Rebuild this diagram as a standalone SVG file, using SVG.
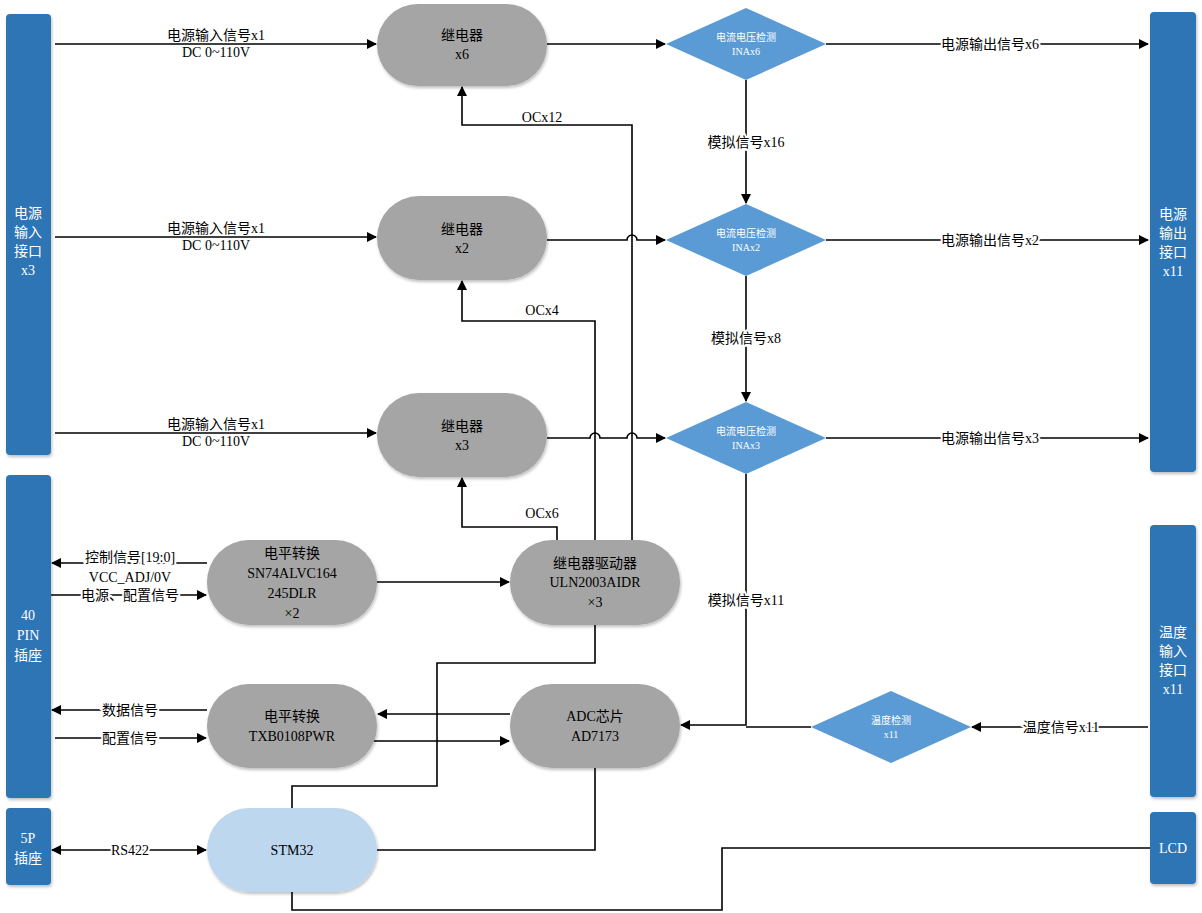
<svg xmlns="http://www.w3.org/2000/svg" width="1202" height="913" viewBox="0 0 1202 913">
<defs>
<marker id="a" markerWidth="10" markerHeight="10" refX="9" refY="5" orient="auto-start-reverse" markerUnits="userSpaceOnUse"><path d="M0,0 L10,5 L0,10 z" fill="#000"/></marker>
<filter id="sh" x="-10%" y="-10%" width="120%" height="130%"><feDropShadow dx="1" dy="2" stdDeviation="1.5" flood-color="#000" flood-opacity="0.25"/></filter>
<style>
text{font-family:"Liberation Serif","Noto Sans CJK SC",serif;font-size:14px;text-anchor:middle;fill:#000}
.bar{fill:#2e75b6;filter:url(#sh)}
.bar+text,.wt{fill:#fff}
.rel{fill:#a5a5a5;filter:url(#sh)}
.stm{fill:#bdd7ee;filter:url(#sh)}
.dia{fill:#5b9bd5}
.dt{fill:#fff;font-size:10px}
.c{fill:none;stroke:#000;stroke-width:1.6}
.ar{marker-end:url(#a)}
.lb{paint-order:stroke;stroke:#fff;stroke-width:4px}
</style>
</defs>
<rect width="1202" height="913" fill="#fff"/>
<g id="in_power"><rect class="bar" x="6" y="14" width="45" height="441" rx="4"/><text class="wt" x="28" y="218">电源</text><text class="wt" x="28" y="237">输入</text><text class="wt" x="28" y="256">接口</text><text class="wt" x="28" y="275">x3</text></g>
<g id="pin40"><rect class="bar" x="6" y="475" width="45" height="323" rx="4"/><text class="wt" x="28" y="620">40</text><text class="wt" x="28" y="640">PIN</text><text class="wt" x="28" y="660">插座</text></g>
<g id="p5"><rect class="bar" x="6" y="808" width="45" height="77" rx="4"/><text class="wt" x="28" y="843">5P</text><text class="wt" x="28" y="863">插座</text></g>
<g id="out_power"><rect class="bar" x="1150" y="12" width="46" height="460" rx="4"/><text class="wt" x="1173" y="219">电源</text><text class="wt" x="1173" y="238">输出</text><text class="wt" x="1173" y="257">接口</text><text class="wt" x="1173" y="276">x11</text></g>
<g id="temp_in"><rect class="bar" x="1150" y="525" width="46" height="272" rx="4"/><text class="wt" x="1173" y="637">温度</text><text class="wt" x="1173" y="656">输入</text><text class="wt" x="1173" y="675">接口</text><text class="wt" x="1173" y="694">x11</text></g>
<g id="lcd"><rect class="bar" x="1150" y="812" width="46" height="72" rx="4"/><text class="wt" x="1173" y="853">LCD</text></g>

<g id="relay6"><rect class="rel" x="377" y="4" width="170" height="82" rx="41"/><text x="462" y="40">继电器</text><text x="462" y="59">x6</text></g>
<g id="relay2"><rect class="rel" x="377" y="196" width="170" height="84" rx="42"/><text x="462" y="234">继电器</text><text x="462" y="253">x2</text></g>
<g id="relay3"><rect class="rel" x="377" y="393" width="170" height="84" rx="42"/><text x="462" y="431">继电器</text><text x="462" y="450">x3</text></g>
<g id="sn74"><rect class="rel" x="207" y="540" width="170" height="85" rx="42"/><text x="292" y="558">电平转换</text><text x="292" y="578">SN74ALVC164</text><text x="292" y="598">245DLR</text><text x="292" y="618">×2</text></g>
<g id="uln"><rect class="rel" x="510" y="540" width="170" height="85" rx="42"/><text x="595" y="568">继电器驱动器</text><text x="595" y="587">ULN2003AIDR</text><text x="595" y="607">×3</text></g>
<g id="txb"><rect class="rel" x="207" y="684" width="170" height="84" rx="42"/><text x="292" y="721">电平转换</text><text x="292" y="741">TXB0108PWR</text></g>
<g id="adc"><rect class="rel" x="510" y="684" width="170" height="84" rx="42"/><text x="595" y="721">ADC芯片</text><text x="595" y="741">AD7173</text></g>
<g id="stm32"><rect class="stm" x="207" y="808" width="170" height="84" rx="42"/><text x="292" y="855">STM32</text></g>

<g id="ina6"><path class="dia" d="M666,44 L746,8 L826,44 L746,80 z"/><text class="dt" x="746" y="41">电流电压检测</text><text class="dt" x="746" y="55">INAx6</text></g>
<g id="ina2"><path class="dia" d="M666,240 L746,204 L826,240 L746,276 z"/><text class="dt" x="746" y="237">电流电压检测</text><text class="dt" x="746" y="251">INAx2</text></g>
<g id="ina3"><path class="dia" d="M666,438 L746,402 L826,438 L746,474 z"/><text class="dt" x="746" y="435">电流电压检测</text><text class="dt" x="746" y="449">INAx3</text></g>
<g id="temp"><path class="dia" d="M811,727 L891,691 L971,727 L891,763 z"/><text class="dt" x="891" y="724">温度检测</text><text class="dt" x="891" y="738">x11</text></g>

<g id="connectors">
<path class="c ar" d="M55,44 H376"/><path class="c ar" d="M55,237 H376"/><path class="c ar" d="M55,433 H376"/>
<path class="c ar" d="M547,44 H665"/>
<path class="c ar" d="M547,240 H627 a5,5 0 0 1 10,0 H665"/>
<path class="c ar" d="M547,438 H590 a5,5 0 0 1 10,0 H627 a5,5 0 0 1 10,0 H665"/>
<path class="c ar" d="M826,44 H1148"/><path class="c ar" d="M826,240 H1148"/><path class="c ar" d="M826,438 H1148"/>
<path class="c ar" d="M746,80 V203"/><path class="c ar" d="M746,276 V401"/>
<path class="c ar" d="M746,474 V725 H681"/>
<path class="c" d="M811,727 H746"/>
<path class="c ar" d="M1148,727 H972"/>
<path class="c ar" d="M632,540 V125 H462 V87"/>
<path class="c ar" d="M595,540 V321 H462 V281"/>
<path class="c ar" d="M557,540 V527 H462 V478"/>
<path class="c ar" d="M377,582 H509"/>
<path class="c ar" d="M207,563 H52"/>
<path class="c ar" d="M51,595 H206"/>
<path class="c ar" d="M207,710 H52"/>
<path class="c ar" d="M55,738 H206"/>
<path class="c ar" d="M510,714 H378"/>
<path class="c ar" d="M374,741 H509"/>
<path class="c" d="M595,625 V663 H437 V786 H292 V808"/>
<path class="c" d="M595,768 V850 H377"/>
<path class="c" d="M292,892 V910 H722 V848 H1150"/>
<path class="c ar" d="M130,850 H52" /><path class="c ar" d="M130,850 H206"/>
</g>
<g id="labels">
<text x="216" y="40">电源输入信号x1</text><text x="216" y="57">DC 0~110V</text>
<text x="216" y="233">电源输入信号x1</text><text x="216" y="250">DC 0~110V</text>
<text x="216" y="429">电源输入信号x1</text><text x="216" y="446">DC 0~110V</text>
<text class="lb" x="990" y="49">电源输出信号x6</text><text class="lb" x="990" y="245">电源输出信号x2</text><text class="lb" x="990" y="443">电源输出信号x3</text>
<text class="lb" x="746" y="147">模拟信号x16</text><text class="lb" x="746" y="343">模拟信号x8</text><text class="lb" x="746" y="605">模拟信号x11</text>
<text class="lb" x="1061" y="732">温度信号x11</text>
<text x="542" y="122">OCx12</text><text x="542" y="315">OCx4</text><text x="542" y="518">OCx6</text>
<text class="lb" x="130" y="562">控制信号[19:0]</text><text x="130" y="582">VCC_ADJ/0V</text><text class="lb" x="130" y="600">电源、配置信号</text>
<text class="lb" x="130" y="715">数据信号</text><text class="lb" x="130" y="743">配置信号</text>
<text class="lb" x="130" y="855">RS422</text>
</g>
</svg>
